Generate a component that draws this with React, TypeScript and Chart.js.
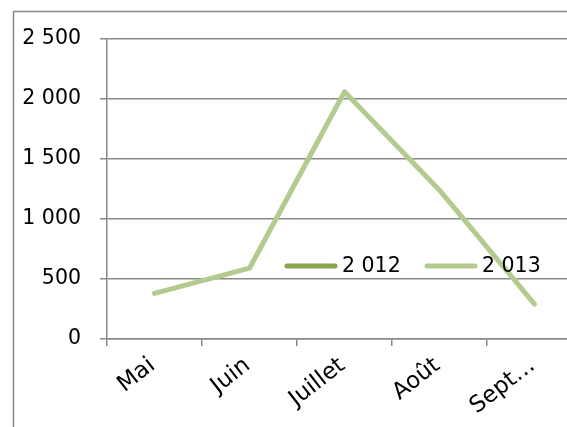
import React, { useEffect, useRef } from 'react';
import { Chart, registerables } from 'chart.js';

Chart.register(...registerables);

const categories = ['Mai', 'Juin', 'Juillet', 'Août', 'Sept…'];
const seriesNames = ['2 012', '2 013'];
const values2012: (number | null)[] = [null, null, null, null, null];
const values2013: number[] = [380, 590, 2060, 1240, 290];
const seriesColors = ['#86A44A', '#B3CB8E'];
const yMin = 0;
const yMax = 2500;
const yStep = 500;

const FONT = '"DejaVu Sans", sans-serif';
const TEXT_SIZE = 20.5;
const X_TEXT_SIZE = 23;

function formatThousands(v: number): string {
  return String(v).replace(/\B(?=(\d{3})+(?!\d))/g, ' ');
}

export default function App() {
  const ref = useRef<HTMLCanvasElement>(null);

  useEffect(() => {
    if (!ref.current) return;

    const framePlugin = {
      id: 'frame',
      beforeDraw(chart: any) {
        const ctx = chart.ctx;
        ctx.save();
        ctx.fillStyle = '#ffffff';
        ctx.fillRect(0, 0, chart.width, chart.height);
        ctx.strokeStyle = '#898989';
        ctx.lineWidth = 1.5;
        ctx.beginPath();
        ctx.moveTo(13.5, chart.height);
        ctx.lineTo(13.5, 11.5);
        ctx.lineTo(chart.width, 11.5);
        ctx.stroke();
        ctx.restore();
      },
    };

    const legendPlugin = {
      id: 'inlineLegend',
      afterDatasetsDraw(chart: any) {
        const ctx = chart.ctx;
        const area = chart.chartArea;
        const y = area.bottom - 73;
        const items = [
          { x: area.left + 180, text: seriesNames[0], color: seriesColors[0] },
          { x: area.left + 320, text: seriesNames[1], color: seriesColors[1] },
        ];
        ctx.save();
        for (const it of items) {
          ctx.strokeStyle = it.color;
          ctx.lineWidth = 5;
          ctx.lineCap = 'round';
          ctx.beginPath();
          ctx.moveTo(it.x, y);
          ctx.lineTo(it.x + 48, y);
          ctx.stroke();
          ctx.fillStyle = '#000000';
          ctx.font = `${TEXT_SIZE}px ${FONT}`;
          ctx.textBaseline = 'middle';
          ctx.textAlign = 'left';
          ctx.fillText(it.text, it.x + 55, y + 1);
        }
        ctx.restore();
      },
    };

    const chart = new Chart(ref.current, {
      type: 'line',
      data: {
        labels: categories,
        datasets: [
          {
            label: seriesNames[0],
            data: values2012,
            borderColor: seriesColors[0],
            backgroundColor: seriesColors[0],
            borderWidth: 5,
            pointRadius: 0,
            borderCapStyle: 'round',
            borderJoinStyle: 'round',
            tension: 0,
          },
          {
            label: seriesNames[1],
            data: values2013,
            borderColor: seriesColors[1],
            backgroundColor: seriesColors[1],
            borderWidth: 5,
            pointRadius: 0,
            borderCapStyle: 'round',
            borderJoinStyle: 'round',
            tension: 0,
          },
        ],
      },
      options: {
        animation: false,
        responsive: false,
        devicePixelRatio: 1,
        layout: { padding: { left: 0, top: 39, right: 18, bottom: 0 } },
        plugins: {
          legend: { display: false },
          tooltip: { enabled: false },
        },
        scales: {
          x: {
            type: 'category',
            offset: true,
            afterFit(scale: any) {
              scale.height = 121;
            },
            grid: {
              offset: true,
              drawOnChartArea: false,
              drawTicks: true,
              tickLength: 7,
              color: '#898989',
              lineWidth: 1.5,
            },
            border: { display: true, color: '#898989', width: 1.5 },
            ticks: {
              minRotation: 38,
              maxRotation: 38,
              autoSkip: false,
              padding: 6,
              labelOffset: -2,
              color: '#000000',
              font: { family: FONT, size: X_TEXT_SIZE },
            },
          },
          y: {
            min: yMin,
            max: yMax,
            afterFit(scale: any) {
              scale.width = 107;
            },
            grid: {
              drawTicks: true,
              tickLength: 7,
              color: '#898989',
              lineWidth: 1.5,
            },
            border: { display: true, color: '#898989', width: 1.5 },
            ticks: {
              stepSize: yStep,
              padding: 19,
              color: '#000000',
              font: { family: FONT, size: TEXT_SIZE },
              callback: (v: any) => formatThousands(Number(v)),
            },
          },
        },
      },
      plugins: [framePlugin, legendPlugin],
    });

    return () => chart.destroy();
  }, []);

  return (
    <div
      style={{
        position: 'absolute',
        left: 0,
        top: 0,
        width: 567,
        height: 427,
        overflow: 'hidden',
        background: '#ffffff',
      }}
    >
      <canvas ref={ref} width={600} height={460} style={{ display: 'block', width: 600, height: 460 }} />
    </div>
  );
}
